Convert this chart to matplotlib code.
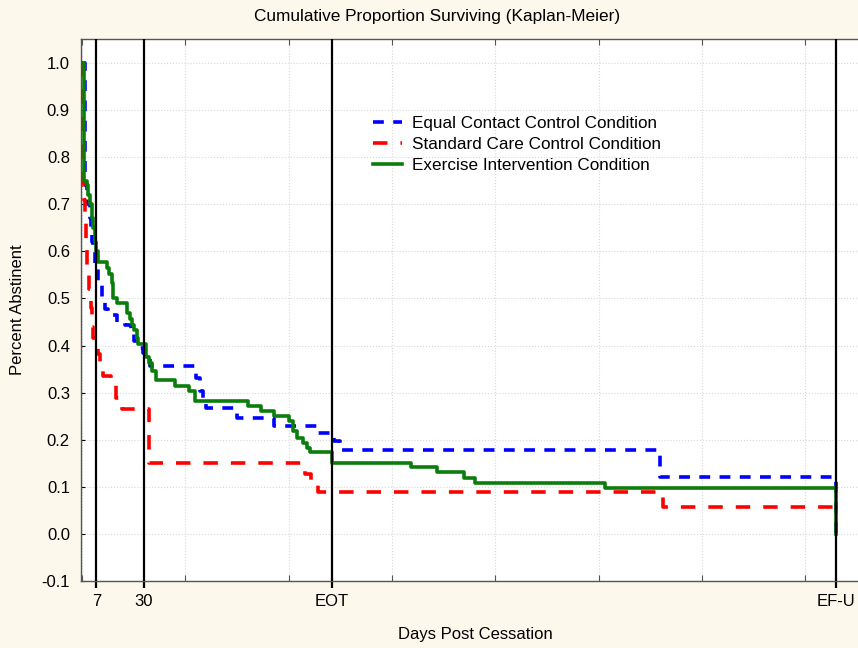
import numpy as np
import matplotlib
matplotlib.use("Agg")
import matplotlib.pyplot as plt

plt.rcParams['font.family'] = ['Liberation Sans', 'DejaVu Sans']

# survival steps (days, proportion after that day)
equal_t = [0, 1.5, 2.5, 4, 4.5, 5, 5.5, 6.5, 7.5, 9.5, 11, 12.5, 17, 21, 23.5, 25, 28, 29.5,
           31.5, 33, 55, 57, 58.5, 60, 75, 93, 114, 122, 125, 280, 365]
equal_s = [1.0, 0.74, 0.70, 0.67, 0.64, 0.62, 0.60, 0.566, 0.534, 0.50, 0.478, 0.464, 0.447,
           0.443, 0.428, 0.41, 0.394, 0.385, 0.375, 0.357, 0.332, 0.304, 0.289, 0.268, 0.247,
           0.230, 0.215, 0.198, 0.179, 0.121, 0.0]

standard_t = [0, 0.5, 1, 1.5, 2, 2.5, 3.5, 4, 4.5, 5, 5.5, 7.5, 8.5, 10, 14, 16.5, 19.5,
              32.5, 108, 111, 114, 281, 365]
standard_s = [1.0, 0.74, 0.71, 0.66, 0.61, 0.56, 0.52, 0.50, 0.48, 0.44, 0.415, 0.383, 0.347,
              0.336, 0.32, 0.289, 0.266, 0.15, 0.128, 0.107, 0.088, 0.058, 0.058]

exercise_t = [0, 1, 2.5, 3, 4, 5, 5.5, 6.5, 7, 7.5, 12, 13, 14.5, 15, 17, 22, 23, 24, 25,
              26.5, 27, 31, 32.5, 34, 36, 45, 52, 54.5, 80.5, 86.5, 93, 100, 102, 104, 107,
              109, 110.5, 121, 159, 172, 185, 190, 253, 365]
exercise_s = [1.0, 0.75, 0.74, 0.72, 0.70, 0.67, 0.65, 0.62, 0.60, 0.577, 0.564, 0.553, 0.532,
              0.50, 0.49, 0.47, 0.457, 0.443, 0.432, 0.417, 0.404, 0.375, 0.362, 0.347, 0.326,
              0.315, 0.304, 0.283, 0.272, 0.262, 0.251, 0.240, 0.219, 0.204, 0.194, 0.183,
              0.174, 0.151, 0.142, 0.132, 0.119, 0.109, 0.098, 0.0]

event_days = [7, 30, 121, 365]
event_labels = ['7', '30', 'EOT', 'EF-U']

fig = plt.figure(figsize=(8.58, 6.48), dpi=100, facecolor='#fdf8ec')
ax = fig.add_axes([81/858, 67/648, 777/858, 542/648])
ax.set_facecolor('white')

ax.step(equal_t, equal_s, where='post', color='#0000ff', lw=2.6, dashes=(3, 2.6),
        label='Equal Contact Control Condition', zorder=3)
ax.step(standard_t, standard_s, where='post', color='#ff0000', lw=2.6, dashes=(4, 3.6),
        label='Standard Care Control Condition', zorder=3)
ax.step(exercise_t, exercise_s, where='post', color='#0b7d0b', lw=2.6,
        label='Exercise Intervention Condition', zorder=4)

for d in event_days:
    ax.axvline(d, color='black', lw=1.6, zorder=5)

ax.set_xlim(-0.5, 375.6)
ax.set_ylim(-0.1, 1.051)

ax.set_xticks(event_days)
ax.set_xticklabels(event_labels)
ax.set_xticks(np.arange(0, 376, 50), minor=True)
ax.set_yticks(np.round(np.arange(-0.1, 1.01, 0.1), 1))
ax.set_yticklabels(['%.1f' % v for v in np.arange(-0.1, 1.01, 0.1)])

ax.grid(True, which='minor', axis='x', color='#d8d8d8', ls=':', lw=0.8)
ax.grid(True, which='major', axis='y', color='#d8d8d8', ls=':', lw=0.8)

ax.tick_params(axis='x', which='major', direction='out', length=5, width=1.6,
               labelsize=12, pad=4, top=False)
ax.tick_params(axis='x', which='minor', direction='in', length=4, width=0.8,
               top=True, color='#555555')
ax.tick_params(axis='y', direction='in', length=3, width=0.8, labelsize=12, pad=8)

for s in ['left', 'bottom', 'top']:
    ax.spines[s].set_color('#555555')
    ax.spines[s].set_linewidth(1.0)
ax.spines['right'].set_visible(False)

ax.set_xlabel('Days Post Cessation', fontsize=12, labelpad=14)
ax.set_ylabel('Percent Abstinent', fontsize=12, labelpad=12)
ax.xaxis.set_label_coords((475 - 81) / 777, -0.085)

fig.text(437/858, 1 - 17/648, 'Cumulative Proportion Surviving (Kaplan-Meier)',
         ha='center', va='center', fontsize=12.4)

ax.legend(loc='upper left', bbox_to_anchor=(364/858, 1 - 107/648),
          bbox_transform=fig.transFigure, frameon=False, fontsize=12.3,
          handlelength=1.7, handletextpad=0.6, labelspacing=0.36, borderpad=0)

fig.savefig('out.png', dpi=100, facecolor=fig.get_facecolor())
